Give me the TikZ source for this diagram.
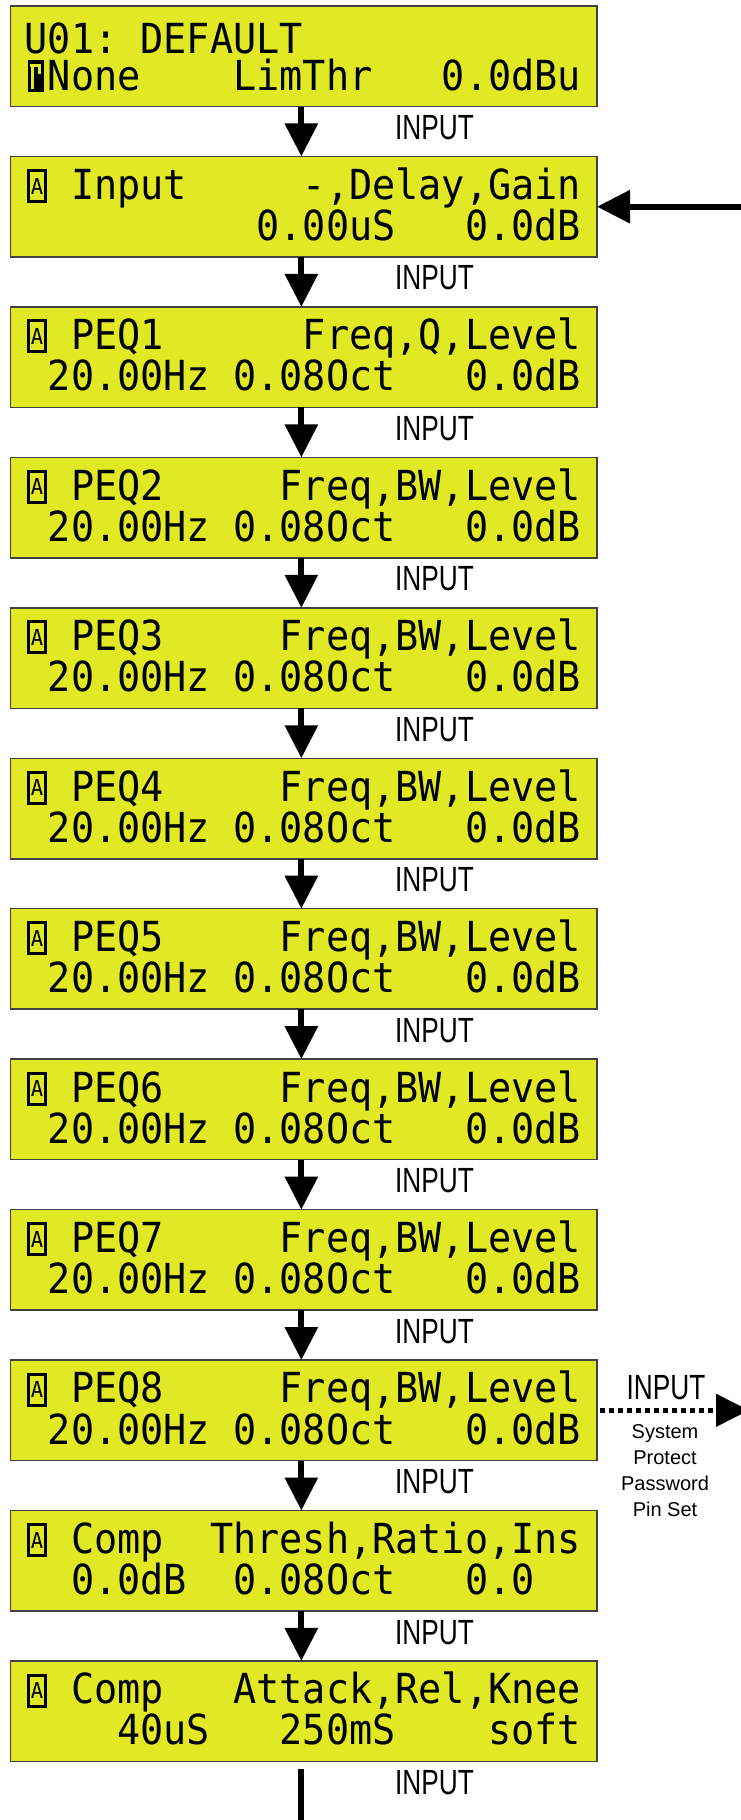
\documentclass[tikz,border=0pt]{standalone}
\usepackage{fontspec}
\usetikzlibrary{arrows.meta,positioning}
\newfontfamily\lcdfont[FakeStretch=0.93]{DejaVu Sans Mono}
\newfontfamily\labelfont[FakeStretch=0.75]{Liberation Sans}
\newfontfamily\notefont{Liberation Sans}
\definecolor{lcd}{RGB}{225,233,37}
% one display cell: framed A, and the cursor block
\newcommand\selA{\makebox[23.18pt][l]{\hspace{2.2pt}\raisebox{-0.7pt}{\setlength\fboxrule{3pt}\setlength\fboxsep{0pt}\fbox{\vbox to 28pt{\vss\hbox to 14.3pt{\hss\fontsize{22}{22}\selectfont A\hss}\vss}}}}}
\newcommand\curQ{\makebox[23.18pt][l]{\hspace{2.8pt}\rlap{\rule[-2pt]{16pt}{32.3pt}}\textcolor{lcd}{\hspace{3pt}\rlap{\rule[23.3pt]{10pt}{3pt}}\rlap{\rule[1.3pt]{3.5pt}{25pt}}\hspace{7pt}\rlap{\rule[16.3pt]{3pt}{10pt}}}}}
\begin{document}
\begin{tikzpicture}[x = 1pt, y = 1pt, node distance = 49.95pt,
  screen/.style = {draw = black!75, line width = 1.5pt, fill = lcd, minimum width = 586.5pt, minimum height = 100.5pt, inner sep = 0pt, outer sep = 0pt},
  rows/.style = {anchor = base west, inner sep = 0pt, align = left, font = \lcdfont\fontsize{41.4}{37}\selectfont},
  inlabel/.style = {anchor = base, inner sep = 0pt, font = \labelfont\fontsize{35}{35}\selectfont},
  note/.style = {anchor = base, inner sep = 0pt, font = \notefont\fontsize{20}{20}\selectfont},
  flow/.style = {line width = 6pt, -{Triangle[length = 33pt, width = 32pt]}},
  dotflow/.style = {line width = 4.5pt, dash pattern = on 4.5pt off 4.5pt, -{Triangle[length = 33pt, width = 32pt]}}]
\fill[white] (0,0) rectangle (740,-1820);
\useasboundingbox (0,0) rectangle (740,-1820);
% screens
\node (S1) [screen, anchor = north west] at (10.5,-6) {};
\node (S2) [screen, below = of S1] {};
\node (S3) [screen, below = of S2] {};
\node (S4) [screen, below = of S3] {};
\node (S5) [screen, below = of S4] {};
\node (S6) [screen, below = of S5] {};
\node (S7) [screen, below = of S6] {};
\node (S8) [screen, below = of S7] {};
\node (S9) [screen, below = of S8] {};
\node (S10) [screen, below = of S9] {};
\node (S11) [screen, below = of S10] {};
\node (S12) [screen, below = of S11] {};
% display text (anchored on the second row)
\node (T1) [rows] at ([shift = {(14,-84)}]S1.north west) {U01:~DEFAULT\\\curQ None~~~~LimThr~~~0.0dBu};
\node (T2) [rows] at ([shift = {(14,-84)}]S2.north west) {\selA~Input~~~~~-,Delay,Gain\\~~~~~~~~~~0.00uS~~~0.0dB};
\node (T3) [rows] at ([shift = {(14,-84)}]S3.north west) {\selA~PEQ1~~~~~~Freq,Q,Level\\~20.00Hz~0.08Oct~~~0.0dB};
\node (T4) [rows] at ([shift = {(14,-84)}]S4.north west) {\selA~PEQ2~~~~~Freq,BW,Level\\~20.00Hz~0.08Oct~~~0.0dB};
\node (T5) [rows] at ([shift = {(14,-84)}]S5.north west) {\selA~PEQ3~~~~~Freq,BW,Level\\~20.00Hz~0.08Oct~~~0.0dB};
\node (T6) [rows] at ([shift = {(14,-84)}]S6.north west) {\selA~PEQ4~~~~~Freq,BW,Level\\~20.00Hz~0.08Oct~~~0.0dB};
\node (T7) [rows] at ([shift = {(14,-84)}]S7.north west) {\selA~PEQ5~~~~~Freq,BW,Level\\~20.00Hz~0.08Oct~~~0.0dB};
\node (T8) [rows] at ([shift = {(14,-84)}]S8.north west) {\selA~PEQ6~~~~~Freq,BW,Level\\~20.00Hz~0.08Oct~~~0.0dB};
\node (T9) [rows] at ([shift = {(14,-84)}]S9.north west) {\selA~PEQ7~~~~~Freq,BW,Level\\~20.00Hz~0.08Oct~~~0.0dB};
\node (T10) [rows] at ([shift = {(14,-84)}]S10.north west) {\selA~PEQ8~~~~~Freq,BW,Level\\~20.00Hz~0.08Oct~~~0.0dB};
\node (T11) [rows] at ([shift = {(14,-84)}]S11.north west) {\selA~Comp~~Thresh,Ratio,Ins\\~~0.0dB~~0.08Oct~~~0.0};
\node (T12) [rows] at ([shift = {(14,-84)}]S12.north west) {\selA~Comp~~~Attack,Rel,Knee\\~~~~40uS~~~250mS~~~~soft};
% INPUT labels
\node (I1) [inlabel] at ([shift = {(130.8,-33)}]S1.south) {INPUT};
\node (I2) [inlabel] at ([shift = {(130.8,-33)}]S2.south) {INPUT};
\node (I3) [inlabel] at ([shift = {(130.8,-33)}]S3.south) {INPUT};
\node (I4) [inlabel] at ([shift = {(130.8,-33)}]S4.south) {INPUT};
\node (I5) [inlabel] at ([shift = {(130.8,-33)}]S5.south) {INPUT};
\node (I6) [inlabel] at ([shift = {(130.8,-33)}]S6.south) {INPUT};
\node (I7) [inlabel] at ([shift = {(130.8,-33)}]S7.south) {INPUT};
\node (I8) [inlabel] at ([shift = {(130.8,-33)}]S8.south) {INPUT};
\node (I9) [inlabel] at ([shift = {(130.8,-33)}]S9.south) {INPUT};
\node (I10) [inlabel] at ([shift = {(130.8,-33)}]S10.south) {INPUT};
\node (I11) [inlabel] at ([shift = {(130.8,-33)}]S11.south) {INPUT};
\node (I12) [inlabel] at ([shift = {(130.8,-33)}]S12.south) {INPUT};
\node (I13) [inlabel] at ([shift = {(69,11.3)}]S10.east) {INPUT};
\node (N1) [note] at ([shift = {(68,-27.7)}]S10.east) {System};
\node (N2) [note] at ([shift = {(68,-53.7)}]S10.east) {Protect};
\node (N3) [note] at ([shift = {(68,-80.2)}]S10.east) {Password};
\node (N4) [note] at ([shift = {(68,-106.2)}]S10.east) {Pin Set};
% connectors
\draw [flow] ([xshift = -2.4pt]S1.south) -- ([xshift = -2.4pt]S2.north);
\draw [flow] ([xshift = -2.4pt]S2.south) -- ([xshift = -2.4pt]S3.north);
\draw [flow] ([xshift = -2.4pt]S3.south) -- ([xshift = -2.4pt]S4.north);
\draw [flow] ([xshift = -2.4pt]S4.south) -- ([xshift = -2.4pt]S5.north);
\draw [flow] ([xshift = -2.4pt]S5.south) -- ([xshift = -2.4pt]S6.north);
\draw [flow] ([xshift = -2.4pt]S6.south) -- ([xshift = -2.4pt]S7.north);
\draw [flow] ([xshift = -2.4pt]S7.south) -- ([xshift = -2.4pt]S8.north);
\draw [flow] ([xshift = -2.4pt]S8.south) -- ([xshift = -2.4pt]S9.north);
\draw [flow] ([xshift = -2.4pt]S9.south) -- ([xshift = -2.4pt]S10.north);
\draw [flow] ([xshift = -2.4pt]S10.south) -- ([xshift = -2.4pt]S11.north);
\draw [flow] ([xshift = -2.4pt]S11.south) -- ([xshift = -2.4pt]S12.north);
\coordinate (tail) at ([shift = {(-2.4,-70)}]S12.south);
\draw [line width = 6pt] ([shift = {(-2.4,-8)}]S12.south) -- (tail);
\coordinate (src) at ([xshift = 163pt]S2.east);
\draw [flow] (src) -- (S2.east);
\coordinate (pin) at ([xshift = 152pt]S10.east);
\draw [dotflow] ([xshift = 3pt]S10.east) -- (pin);
\end{tikzpicture}
\end{document}
